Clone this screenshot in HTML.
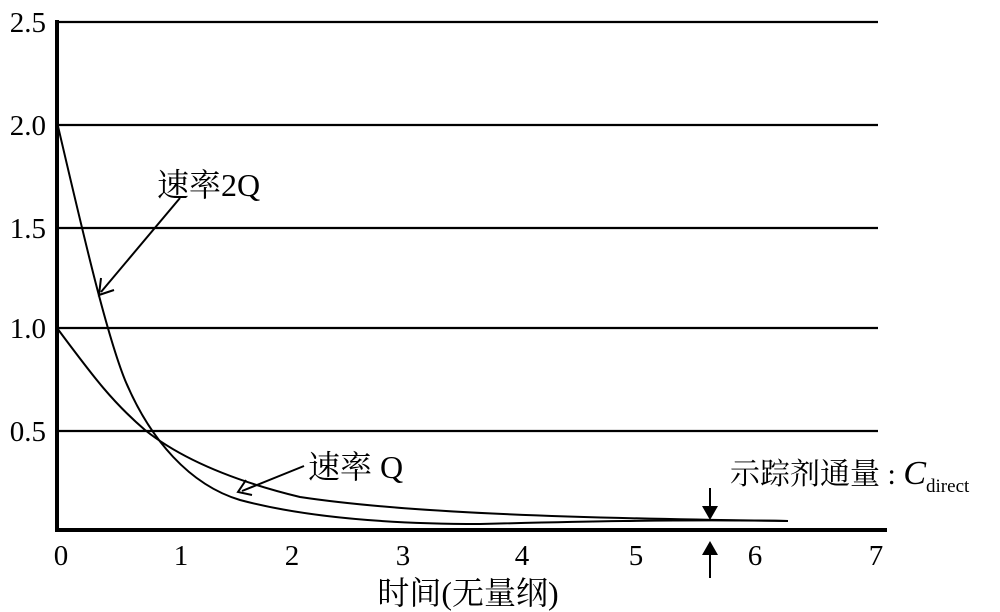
<!DOCTYPE html><html><head><meta charset="utf-8"><style>body{margin:0;background:#fff}svg{display:block}text{font-family:"Liberation Serif","Noto Serif CJK SC",serif;fill:#000}</style></head><body>
<svg width="1000" height="612" viewBox="0 0 1000 612">
<g stroke="#000" stroke-width="2.2" fill="none">
<line x1="57" y1="22" x2="878" y2="22"/><line x1="57" y1="125" x2="878" y2="125"/><line x1="57" y1="228" x2="878" y2="228"/><line x1="57" y1="328" x2="878" y2="328"/><line x1="57" y1="431" x2="878" y2="431"/>
</g>
<line x1="57" y1="20" x2="57" y2="531" stroke="#000" stroke-width="4"/>
<line x1="55" y1="530" x2="887" y2="530" stroke="#000" stroke-width="4"/>
<g fill="none" stroke="#000" stroke-width="2">
<path d="M57,328 C90,372 110,400 145,430 C180,458 230,480 300,497 C400,512 550,518 788,521"/>
<path d="M57,122 C80,220 105,330 125,380 C150,440 190,485 240,500 C300,516 380,524 480,524 C560,522 680,519 788,521"/>
<line x1="180" y1="198" x2="101" y2="292"/><path d="M101,278 L99,295 L114,290"/>
<line x1="304" y1="466" x2="242" y2="491"/><path d="M246,480 L238,492 L252,495"/>
<line x1="710" y1="488" x2="710" y2="512"/><line x1="710" y1="550" x2="710" y2="578"/>
</g>
<path d="M702,506 L718,506 L710,520Z M702,555 L718,555 L710,541Z" fill="#000"/>
<g font-size="29" text-anchor="end"><text x="46" y="32">2.5</text><text x="46" y="135">2.0</text><text x="46" y="238">1.5</text><text x="46" y="338">1.0</text><text x="46" y="441">0.5</text></g>
<g font-size="29" text-anchor="middle"><text x="61" y="565">0</text><text x="181" y="565">1</text><text x="292" y="565">2</text><text x="403" y="565">3</text><text x="522" y="565">4</text><text x="636" y="565">5</text><text x="755" y="565">6</text><text x="876" y="565">7</text></g>
<text x="468" y="604" font-size="32" text-anchor="middle">时间(无量纲)</text>
<text x="157" y="196" font-size="32">速率2Q</text>
<text x="308" y="478" font-size="32">速率 Q</text>
<text x="730" y="484" font-size="30">示踪剂通量 : <tspan font-style="italic" font-size="34">C</tspan><tspan font-size="19" dy="8">direct</tspan></text>
</svg></body></html>
